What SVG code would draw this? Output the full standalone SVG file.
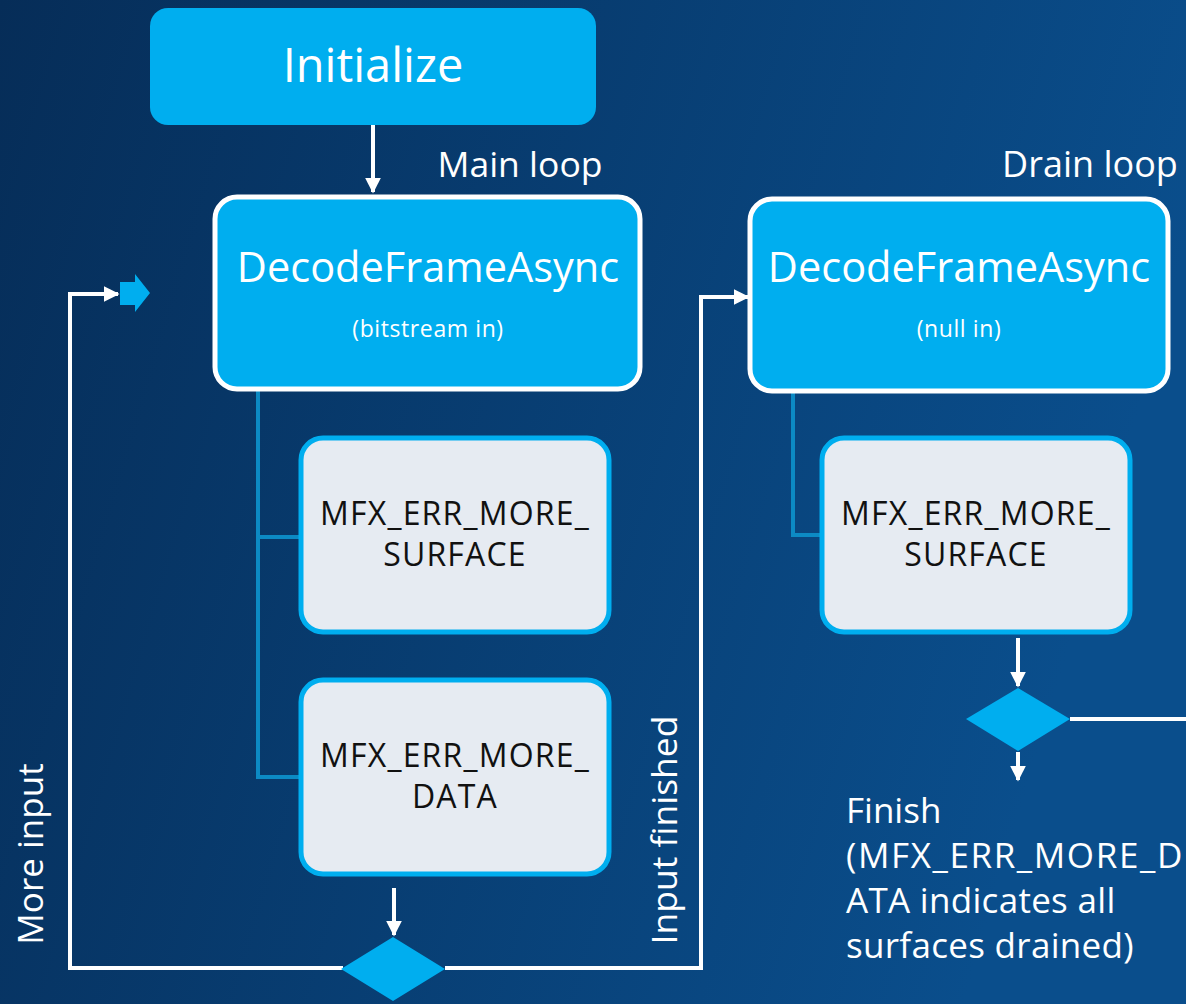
<svg xmlns="http://www.w3.org/2000/svg" width="1186" height="1004" viewBox="0 0 1186 1004">
  <defs>
    <linearGradient id="bg" x1="0" y1="0" x2="1" y2="0.25">
      <stop offset="0" stop-color="#062d58"/>
      <stop offset="1" stop-color="#0a4e8c"/>
    </linearGradient>
    <marker id="ah" viewBox="0 0 10 10" refX="9" refY="5" markerWidth="4" markerHeight="4" markerUnits="strokeWidth" orient="auto">
      <path d="M0,0 L10,5 L0,10 Z" fill="#ffffff"/>
    </marker>
    <style>
      .txt { font-family: "Open Sans", "Noto Sans", "Liberation Sans", sans-serif; }
      .head { fill: #00aeef; }
      .head-b { fill: #00aeef; stroke: #ffffff; stroke-width: 5; }
      .status { fill: #e6ebf2; stroke: #00aeef; stroke-width: 5; }
      .wline { fill: none; stroke: #ffffff; stroke-width: 4; }
      .tline { fill: none; stroke: #0c8ac4; stroke-width: 4; }
      .diam { fill: #00aeef; }
      .wt { fill: #ffffff; }
      .bt { fill: #111111; }
      .code { font-size: 32px; letter-spacing: 1.2px; }
    </style>
  </defs>

  <rect x="0" y="0" width="1186" height="1004" fill="url(#bg)"/>

  <!-- connectors -->
  <g id="connectors">
    <line class="wline" x1="373" y1="125" x2="373" y2="192" marker-end="url(#ah)"/>
    <path class="wline" d="M343,968 H70 V294 H118" marker-end="url(#ah)"/>
    <path class="wline" d="M445,968 H701 V297 H748" marker-end="url(#ah)"/>
    <line class="wline" x1="394" y1="888" x2="394" y2="935" marker-end="url(#ah)"/>
    <line class="wline" x1="1018" y1="638" x2="1018" y2="686" marker-end="url(#ah)"/>
    <line class="wline" x1="1070" y1="719" x2="1186" y2="719"/>
    <line class="wline" x1="1018" y1="752" x2="1018" y2="780" marker-end="url(#ah)"/>
    <path class="tline" d="M258,391 V777 H302 M258,537 H302"/>
    <path class="tline" d="M793,393 V535 H822"/>
    <!-- loop entry arrow -->
    <path d="M120,282 H135 V274 L150,293 L135,312 V305 H120 Z" fill="#00aeef"/>
  </g>

  <g id="initialize">
    <rect class="head" x="150" y="8" width="446" height="117" rx="18"/>
    <text class="txt wt" x="373" y="82" font-size="47" text-anchor="middle">Initialize</text>
  </g>

  <g id="main-loop-label">
    <text class="txt wt" x="520" y="177" font-size="35.5" text-anchor="middle">Main loop</text>
  </g>

  <g id="decode-main">
    <rect class="head-b" x="215" y="197" width="425" height="192" rx="22"/>
    <text class="txt wt" x="428" y="282" font-size="41.5" text-anchor="middle">DecodeFrameAsync</text>
    <text class="txt wt" x="428" y="337" font-size="23" letter-spacing="0.6" text-anchor="middle">(bitstream in)</text>
  </g>

  <g id="main-more-surface">
    <rect class="status" x="301" y="438" width="308" height="194" rx="22"/>
    <text class="txt bt code" x="455" y="525" text-anchor="middle">MFX_ERR_MORE_</text>
    <text class="txt bt code" x="455" y="566" text-anchor="middle">SURFACE</text>
  </g>

  <g id="main-more-data">
    <rect class="status" x="301" y="680" width="308" height="194" rx="22"/>
    <text class="txt bt code" x="455" y="767" text-anchor="middle">MFX_ERR_MORE_</text>
    <text class="txt bt code" x="455" y="808" text-anchor="middle">DATA</text>
  </g>

  <g id="main-decision">
    <polygon class="diam" points="393,937 445,969 393,1001 341,969"/>
  </g>

  <g id="more-input-label">
    <text class="txt wt" transform="translate(43,854) rotate(-90)" font-size="35" text-anchor="middle">More input</text>
  </g>

  <g id="input-finished-label">
    <text class="txt wt" transform="translate(677,830) rotate(-90)" font-size="35.5" text-anchor="middle">Input finished</text>
  </g>

  <g id="drain-loop-label">
    <text class="txt wt" x="1090" y="177" font-size="36" text-anchor="middle">Drain loop</text>
  </g>

  <g id="decode-drain">
    <rect class="head-b" x="750" y="199" width="418" height="192" rx="22"/>
    <text class="txt wt" x="959" y="282" font-size="41.5" text-anchor="middle">DecodeFrameAsync</text>
    <text class="txt wt" x="959" y="337" font-size="23" letter-spacing="0.6" text-anchor="middle">(null in)</text>
  </g>

  <g id="drain-more-surface">
    <rect class="status" x="822" y="438" width="308" height="194" rx="22"/>
    <text class="txt bt code" x="976" y="525" text-anchor="middle">MFX_ERR_MORE_</text>
    <text class="txt bt code" x="976" y="566" text-anchor="middle">SURFACE</text>
  </g>

  <g id="drain-decision">
    <polygon class="diam" points="1018,688 1070,719 1018,751 966,719"/>
  </g>

  <g id="finish">
    <text class="txt wt" font-size="35">
      <tspan x="846" y="823">Finish</tspan>
      <tspan x="846" y="868" letter-spacing="1.6">(MFX_ERR_MORE_D</tspan>
      <tspan x="846" y="913" letter-spacing="0.3">ATA indicates all</tspan>
      <tspan x="846" y="958" letter-spacing="0.3">surfaces drained)</tspan>
    </text>
  </g>
</svg>
